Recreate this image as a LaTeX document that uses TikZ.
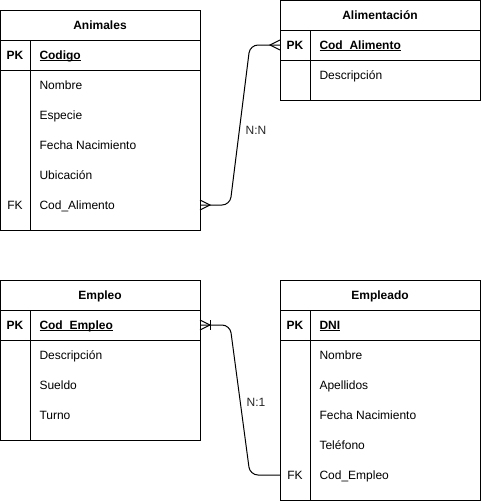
\documentclass[tikz,border=0pt]{standalone}
\usepackage{fontspec}
\setmainfont{Liberation Sans}
\usetikzlibrary{calc}
\newcommand\ulfield[1]{\setbox0\hbox{#1}\rlap{\rule[-1.8pt]{\wd0}{0.8pt}}\box0}
\begin{document}
\begin{tikzpicture}[x=1pt,y=-1pt,line width=1pt,
  font=\fontsize{12}{14}\selectfont,
  tbl/.style={draw,minimum width=200pt,anchor=north west,inner sep=0pt},
  ttl/.style={font=\fontsize{12}{14}\selectfont\bfseries,inner sep=0pt,anchor=base},
  fld/.style={anchor=base west,inner sep=0pt},
  pkf/.style={fld,font=\fontsize{12}{14}\selectfont\bfseries},
  key/.style={inner sep=0pt,anchor=base},
  pkk/.style={key,font=\fontsize{12}{14}\selectfont\bfseries},
  lbl/.style={inner sep=1pt,fill=white,text=black!85}]
\useasboundingbox (0,0) rectangle (481,501);

% Animales
\node[tbl,minimum height=220pt] (ani) at (0,10) {};
\draw (0,40) -- (200,40) (0,70) -- (200,70) (30,40) -- (30,230);
\node[ttl] (aniT) at (100,29.3) {Animales};
\node[pkk] (aniPK) at (15,59.3) {PK};
\node[pkf] (ani1) at (39,59.3) {\ulfield{Codigo}};
\node[fld] (ani2) at (39,89.3) {Nombre};
\node[fld] (ani3) at (39,119.3) {Especie};
\node[fld] (ani4) at (39,149.3) {Fecha Nacimiento};
\node[fld] (ani5) at (39,179.3) {Ubicación};
\node[key] (aniFK) at (15,209.3) {FK};
\node[fld] (ani6) at (39,209.3) {Cod\_Alimento};

% Alimentacion
\node[tbl,minimum height=100pt] (ali) at (280,0) {};
\draw (280,30) -- (480,30) (280,60) -- (480,60) (310,30) -- (310,100);
\node[ttl] (aliT) at (380,19.3) {Alimentación};
\node[pkk] (aliPK) at (295,49.3) {PK};
\node[pkf] (ali1) at (319,49.3) {\ulfield{Cod\_Alimento}};
\node[fld] (ali2) at (319,79.3) {Descripción};

% Empleo
\node[tbl,minimum height=160pt] (emo) at (0,280) {};
\draw (0,310) -- (200,310) (0,340) -- (200,340) (30,310) -- (30,440);
\node[ttl] (emoT) at (100,299.3) {Empleo};
\node[pkk] (emoPK) at (15,329.3) {PK};
\node[pkf] (emo1) at (39,329.3) {\ulfield{Cod\_Empleo}};
\node[fld] (emo2) at (39,359.3) {Descripción};
\node[fld] (emo3) at (39,389.3) {Sueldo};
\node[fld] (emo4) at (39,419.3) {Turno};

% Empleado
\node[tbl,minimum height=220pt] (ema) at (280,280) {};
\draw (280,310) -- (480,310) (280,340) -- (480,340) (310,310) -- (310,500);
\node[ttl] (emaT) at (380,299.3) {Empleado};
\node[pkk] (emaPK) at (295,329.3) {PK};
\node[pkf] (ema1) at (319,329.3) {\ulfield{DNI}};
\node[fld] (ema2) at (319,359.3) {Nombre};
\node[fld] (ema3) at (319,389.3) {Apellidos};
\node[fld] (ema4) at (319,419.3) {Fecha Nacimiento};
\node[fld] (ema5) at (319,449.3) {Teléfono};
\node[key] (emaFK) at (295,479.3) {FK};
\node[fld] (ema6) at (319,479.3) {Cod\_Empleo};

% connector endpoints
\coordinate (c1a) at (200,205);
\coordinate (c1b) at (280,45);
\coordinate (c1m1) at (230,205);
\coordinate (c1m2) at (250,45);
\coordinate (c2a) at (200,325);
\coordinate (c2b) at (280,475);
\coordinate (c2m1) at (230,325);
\coordinate (c2m2) at (250,475);

\draw[rounded corners=8pt] (c1a) -- (c1m1) -- (c1m2) -- (c1b);
\draw (c1a) ++(0,-5) -- ++(10,5) -- ++(-10,5);
\draw (c1b) ++(0,-5) -- ++(-10,5) -- ++(10,5);
\node[lbl] (nn) at (256,130) {N:N};

\draw[rounded corners=8pt] (c2a) -- (c2m1) -- (c2m2) -- (c2b);
\draw (c2a) ++(0,-5) -- ++(10,5) -- ++(-10,5);
\draw (c2a) ++(10,-5) -- ++(0,10);
\node[lbl] (n1) at (256,402) {N:1};
\end{tikzpicture}
\end{document}
